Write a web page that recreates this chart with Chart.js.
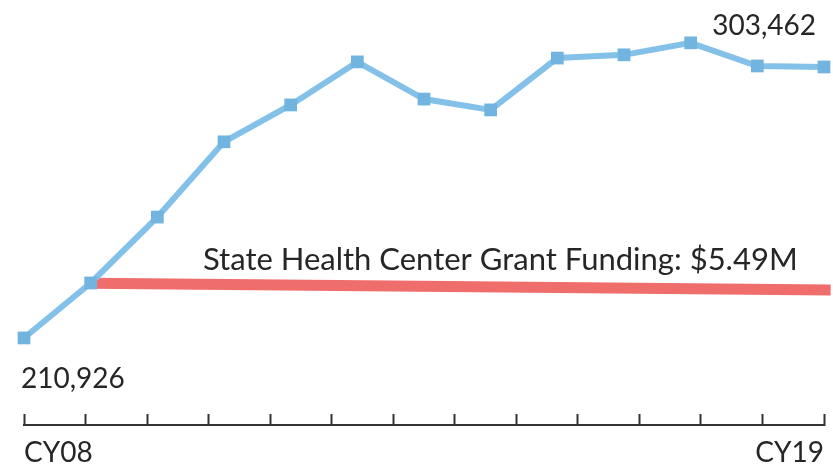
<!DOCTYPE html>
<html>
<head>
<meta charset="utf-8">
<script src="https://cdn.jsdelivr.net/npm/chart.js@4"></script>
<style>
  html, body { margin: 0; padding: 0; background: #fff; }
  #wrap { width: 833px; height: 470px; }
</style>
</head>
<body>
<div id="wrap"><canvas id="patientsChart"></canvas></div>
<script>
// Patients served per year, CY08 .. CY20
const years = ['CY08', 'CY09', 'CY10', 'CY11', 'CY12', 'CY13', 'CY14',
               'CY15', 'CY16', 'CY17', 'CY18', 'CY19', 'CY20'];
const patients = [210926, 229700, 252200, 277900, 290500, 305200, 292500,
                  288800, 306500, 307600, 311700, 303800, 303462];

// Funding reference line (from CY09 to the right edge)
const fundingX = [1, 12.1];
const fundingY = [229600, 227300];
const fundingLabel = 'State Health Center Grant Funding: $5.49M';

// Axis tick labels (14 tick marks along the axis)
const axisTicks = ['CY08', '', '', '', '', '', '', '', '', '', '', '', '', 'CY19'];

const FONT = 'Lato, "Noto Sans", sans-serif';
const TEXT = '#262626';

// Draws the first / last value labels and the funding caption
const labelPlugin = {
    id: 'valueLabels',
    afterDatasetsDraw(chart) {
        const ctx = chart.ctx;
        const pts = chart.getDatasetMeta(0).data;
        const red = chart.getDatasetMeta(1).data;
        const first = pts[0], last = pts[pts.length - 1];
        ctx.save();
        ctx.fillStyle = TEXT;
        ctx.textBaseline = 'alphabetic';
        ctx.font = '28px ' + FONT;
        ctx.textAlign = 'left';
        ctx.fillText(patients[0].toLocaleString('en-US'), first.x - 3, first.y + 50);
        ctx.textAlign = 'right';
        ctx.fillText(patients[patients.length - 1].toLocaleString('en-US'), last.x - 8, last.y - 32);
        ctx.font = '31px ' + FONT;
        ctx.fillText(fundingLabel, red[1].x - 33, red[1].y - 20);
        ctx.restore();
    }
};

new Chart(document.getElementById('patientsChart'), {
    type: 'line',
    data: {
        datasets: [{
            label: 'Patients',
            data: patients.map((v, i) => ({ x: i, y: v })),
            borderColor: '#84c1e8',
            borderWidth: 6,
            pointStyle: 'rect',
            pointRadius: 9,
            pointBackgroundColor: '#72b4e0',
            pointBorderColor: '#72b4e0',
            pointBorderWidth: 0,
            xAxisID: 'xData',
            tension: 0,
            clip: false
        }, {
            label: 'Funding',
            data: fundingX.map((x, i) => ({ x: x, y: fundingY[i] })),
            borderColor: '#ef6d6b',
            borderWidth: 11,
            pointRadius: 0,
            borderCapStyle: 'butt',
            xAxisID: 'xData',
            clip: false
        }]
    },
    options: {
        responsive: true,
        maintainAspectRatio: false,
        animation: false,
        layout: { padding: { left: 24, right: 6, top: 20, bottom: -22 } },
        plugins: {
            legend: { display: false },
            tooltip: { enabled: false }
        },
        scales: {
            xData: {
                type: 'linear',
                display: false,
                min: 0,
                max: years.length - 1
            },
            xAxis: {
                type: 'linear',
                position: 'bottom',
                min: 0,
                max: axisTicks.length - 1,
                afterBuildTicks(axis) {
                    axis.ticks = axisTicks.map((t, i) => ({ value: i }));
                },
                ticks: {
                    autoSkip: false,
                    maxRotation: 0,
                    align: 'inner',
                    padding: 0,
                    color: TEXT,
                    font: { family: FONT, size: 28, lineHeight: 2.786 },
                    callback: (v, i) => axisTicks[i]
                },
                grid: {
                    drawOnChartArea: false,
                    drawTicks: true,
                    tickLength: -11,
                    tickWidth: 2,
                    tickColor: '#333'
                },
                border: { display: true, color: '#333', width: 2 }
            },
            y: {
                display: false,
                min: 181200,
                max: 319500
            }
        }
    },
    plugins: [labelPlugin]
});
</script>
</body>
</html>
